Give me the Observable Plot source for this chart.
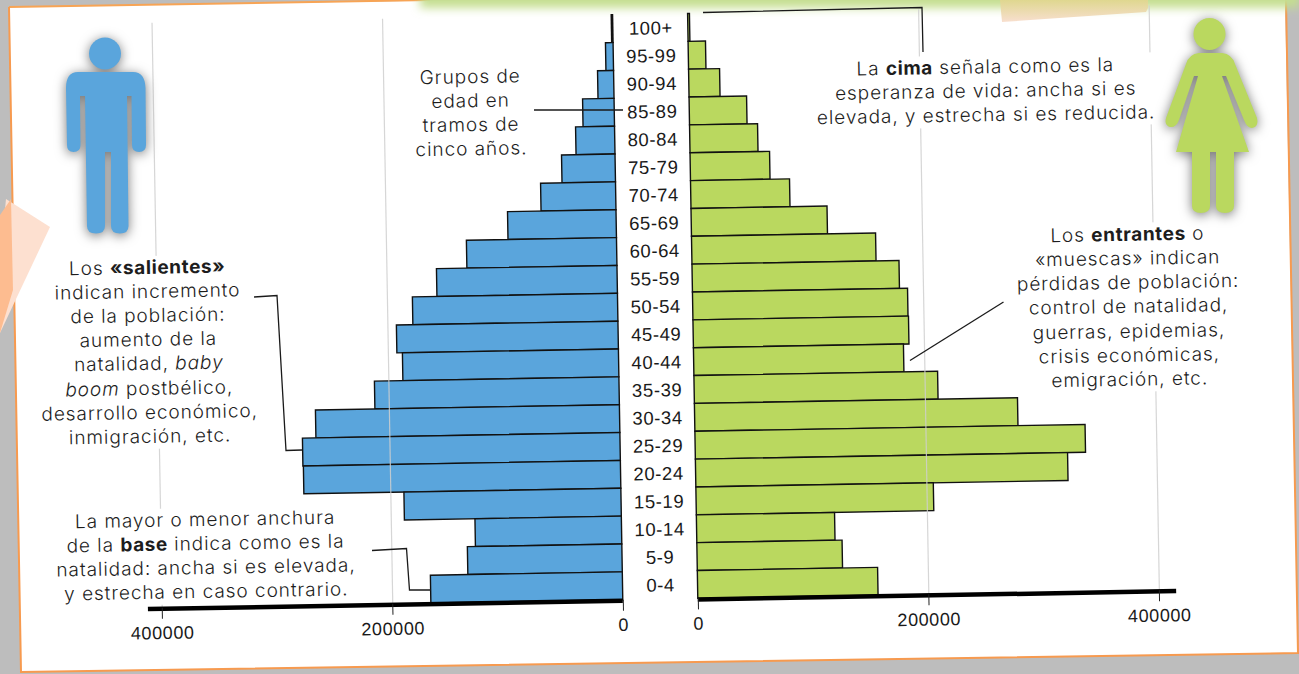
<!DOCTYPE html>
<html lang="es">
<head>
<meta charset="utf-8">
<script src="https://cdn.jsdelivr.net/npm/d3@7"></script>
<script src="https://cdn.jsdelivr.net/npm/@observablehq/plot@0.6"></script>
<style>
html,body{margin:0;padding:0;background:#bdbdbd;}
#stage{position:relative;width:1299px;height:674px;overflow:hidden;background:#bdbdbd;}
#stage>svg,#chart,#notes{position:absolute;left:0;top:0;}
#chart,#notes{width:1299px;height:674px;transform-origin:660px 300px;transform:rotate(-1deg);}
.note{position:absolute;transform:translateX(-50%);text-align:center;white-space:nowrap;background:#fff;padding:0 3px;
 font:300 19px/24.1px Inter,"Noto Sans",sans-serif;letter-spacing:.95px;color:#1d1d1d;}
.note b{font-weight:700;letter-spacing:.6px;}
</style>
</head>
<body>
<div id="stage">
<svg width="1299" height="674">
  <defs>
    <filter id="soft" x="-10%" y="-200%" width="120%" height="500%"><feGaussianBlur stdDeviation="5"/></filter>
    <linearGradient id="tape" x1="0" y1="0" x2="0" y2="1"><stop offset="0" stop-color="#dfd78f"/><stop offset="1" stop-color="#f8dfcf"/></linearGradient>
  </defs>
  <polygon points="9,7 1000,-8 1299,-8 1285,0 1298,653 21,672" fill="#fff"/>
  <polyline points="9,7 430,0" fill="none" stroke="#f7a455" stroke-width="2"/>
  <polyline points="9,7 21,672 1298,653 1286,0" fill="none" stroke="#f79a4f" stroke-width="2"/>
  <rect x="420" y="-12" width="880" height="20" fill="#c5de90" filter="url(#soft)"/>
  <polygon points="1000,0 1148,0 1148,8 1146,12 1002,22" fill="url(#tape)"/>
  <polygon points="0,260 6,199 50,227 0,333" fill="#fde0d0"/>
  <polygon points="0,215 11,199 13,290 0,333" fill="#fdbc90"/>
</svg>
<div id="chart"></div>
<div id="notes"></div>
<svg width="1299" height="674" fill="none" stroke="#1a1a1a" stroke-width="1.3">
  <polyline points="534,110 623,110"/>
  <polyline points="703,12.5 922,7.5 923,52"/>
  <polyline points="254,297 277,295.5 286,450.5 302,450"/>
  <polyline points="372,550.5 406.5,548.5 409.5,590 431,590"/>
  <polyline points="1003.5,302 910,360.5"/>
  <g stroke="none" fill="#5aa5dc" style="filter:drop-shadow(0 2px 6px #777)">
    <circle cx="105" cy="53.5" r="16"/>
    <path d="M78,72 H133 Q145,72 145.5,88 L146,145 Q146,152 139,152 Q132,152 132,145 L131.5,96 H127 L128.5,226 Q128.5,233.5 120,233.5 Q111,233.5 111,226 V152 H105 V226 Q105,233.5 96,233.5 Q87,233.5 87,226 L85,96 H80 L80.5,145 Q80.5,152 73.5,152 Q67,152 67,145 L66,88 Q66,72 78,72Z"/>
  </g>
  <g stroke="none" fill="#bad85f" style="filter:drop-shadow(0 2px 6px #777)">
    <circle cx="1209.5" cy="34" r="16"/>
    <path d="M1199,53 H1222 Q1232,54 1235,64 L1257,118 Q1259,127 1252,128 Q1247,128 1244,120 L1226,76 H1222 L1249,152 H1234 V206 Q1234,213 1225,213 Q1216,213 1216,206 V152 H1210 V206 Q1210,213 1201,213 Q1192,213 1192,206 V152 H1176 L1198,76 H1194 L1179,120 Q1176,128 1170,127 Q1164,125 1166,118 L1186,64 Q1189,54 1199,53Z"/>
  </g>
</svg>
</div>
<script>
const ages = ["100+","95-99","90-94","85-89","80-84","75-79","70-74","65-69","60-64","55-59","50-54","45-49","40-44","35-39","30-34","25-29","20-24","15-19","10-14","5-9","0-4"];
const men = [1200,6600,13900,27300,33800,46400,65000,94100,130200,156600,177900,192200,187400,212100,263700,275400,275000,188200,127000,134000,166500];
const women = [1600,15100,26900,49900,59000,69000,85900,118000,159700,179600,186600,187000,182200,211400,280300,338500,322900,206000,119900,126000,156400];
const tickValues = [0,200000,400000];
const gap = 65076;   // empty centre column that holds the age labels, in population units
const axisEnds = [412000,415000];
const blue = "#5aa5dc", green = "#bad85f";
const rows = ages.map((age,i)=>({age,men:men[i],women:women[i]}));
const gridTicks = [...tickValues.slice(1).map(v=>-v),...tickValues.slice(1).map(v=>v+gap)];
const axisTicks = [...tickValues.map(v=>-v),...tickValues.map(v=>v+gap)];

const plot = Plot.plot({
  width:1299, height:674,
  marginTop:14, marginBottom:75, marginLeft:0, marginRight:0,
  style:{background:"transparent",overflow:"visible"},
  x:{domain:[-axisEnds[0],axisEnds[1]+gap],range:[142.6,1171],axis:null},
  y:{domain:ages,padding:0,round:false,axis:null},
  marks:[
    Plot.barX(rows,{x1:()=>0,x2:d=>-d.men,y:"age",fill:blue,stroke:"#111",strokeWidth:1.4}),
    Plot.barX(rows,{x1:()=>gap,x2:d=>d.women+gap,y:"age",fill:green,stroke:"#111",strokeWidth:1.4}),
    Plot.ruleX(gridTicks,{stroke:"#cfcfcf",strokeWidth:1.2,strokeOpacity:0.85}),
    Plot.ruleY(["0-4"],{x1:()=>-axisEnds[0],x2:()=>0,dy:14.5,stroke:"#000",strokeWidth:4.5}),
    Plot.ruleY(["0-4"],{x1:()=>gap,x2:()=>axisEnds[1]+gap,dy:14.5,stroke:"#000",strokeWidth:4.5}),
    Plot.axisX({ticks:axisTicks,tickSize:11,tickPadding:7,anchor:"bottom",label:null,stroke:"#222",
      tickFormat:d=>String(d<=0?-d:d-gap),
      fontSize:18,fontFamily:"Liberation Sans, Arial, sans-serif",fill:"#1a1a1a"}),
    Plot.text(ages,{x:()=>gap/2,y:d=>d,text:d=>d,fontSize:18.5,fontFamily:"Liberation Sans, Arial, sans-serif",fill:"#1a1a1a"})
  ]
});
plot.querySelectorAll('[aria-label="x-axis tick label"] text, [aria-label="text"] text').forEach(t=>t.style.letterSpacing="0.6px");
document.getElementById("chart").append(plot);

const s = Math.sin(Math.PI/180);
const notes = [
  [470, 65, "Grupos de<br>edad en<br>tramos de<br>cinco años."],
  [985, 55, "La <b>cima</b> señala como es la<br>esperanza de vida: ancha si es<br>elevada, y estrecha si es reducida."],
  [147, 256, "Los <b>«salientes»</b><br>indican incremento<br>de la población:<br>aumento de la<br>natalidad, <i>baby</i><br><i>boom</i> postbélico,<br>desarrollo económico,<br>inmigración, etc."],
  [205, 508, "La mayor o menor anchura<br>de la <b>base</b> indica como es la<br>natalidad: ancha si es elevada,<br>y estrecha en caso contrario."],
  [1127, 223, "Los <b>entrantes</b> o<br>«muescas» indican<br>pérdidas de población:<br>control de natalidad,<br>guerras, epidemias,<br>crisis económicas,<br>emigración, etc."]
];
const box = document.getElementById("notes");
for (const [sx,sy,html] of notes) {
  const d = document.createElement("div");
  d.className = "note";
  d.innerHTML = html;
  const rx = sx-660, ry = sy-300;
  d.style.left = (660 + rx - s*ry) + "px";
  d.style.top = (300 + ry + s*rx) + "px";
  box.append(d);
}
</script>
</body>
</html>
